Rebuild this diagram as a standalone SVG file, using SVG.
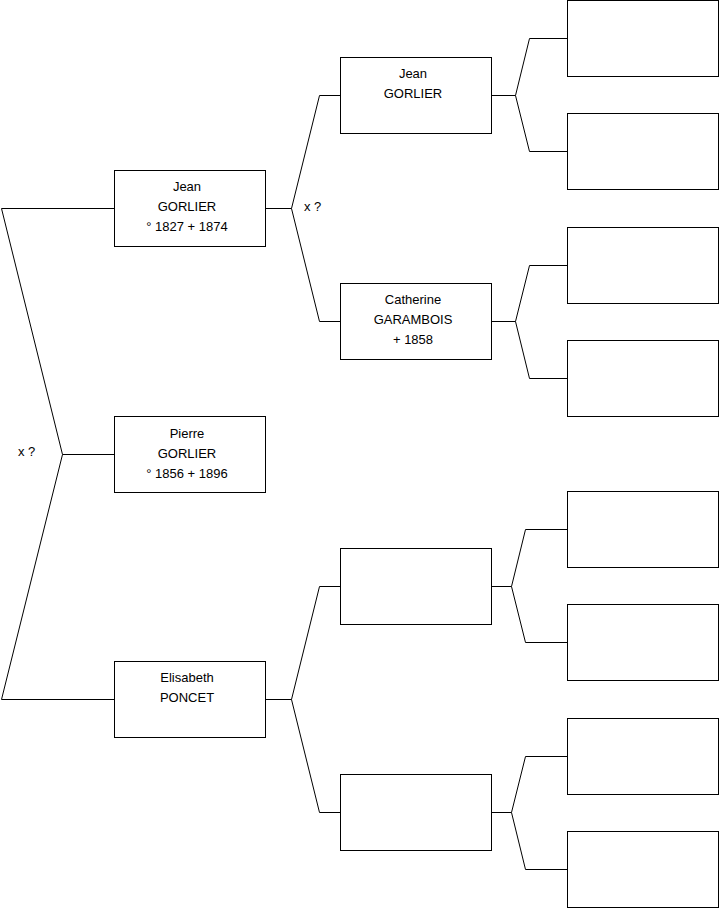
<svg xmlns="http://www.w3.org/2000/svg" width="719" height="908" viewBox="0 0 719 908">
<style>
.box{fill:#fff;stroke:#000;stroke-width:1}
.ln{fill:none;stroke:#000;stroke-width:1}
text{font-family:"Liberation Sans",Arial,sans-serif;font-size:13px;fill:#000;text-anchor:middle}
.lbl{text-anchor:start}
</style>
<rect width="719" height="908" fill="#fff"/>
<g id="connectors">
<path class="ln" d="M114,208.5 H1.5 L62.5,454.5 H114 M62.5,454.5 L1.5,699.5 H114"/>
<path class="ln" d="M265,208.5 H291.5 L319.5,95.5 H340 M291.5,208.5 L319.5,321.5 H340"/>
<path class="ln" d="M265,699.5 H291.5 L319.5,586.5 H340 M291.5,699.5 L319.5,812.5 H340"/>
<path class="ln" d="M491,95.5 H515.5 L529.5,38.5 H567 M515.5,95.5 L529.5,151.5 H567"/>
<path class="ln" d="M491,321.5 H515.5 L529.5,265.5 H567 M515.5,321.5 L529.5,378.5 H567"/>
<path class="ln" d="M491,586.5 H511.5 L525.5,529.5 H567 M511.5,586.5 L525.5,642.5 H567"/>
<path class="ln" d="M491,812.5 H511.5 L525.5,756.5 H567 M511.5,812.5 L525.5,869.5 H567"/>
<text class="lbl" x="18" y="456">x ?</text>
<text class="lbl" x="304" y="211">x ?</text>
</g>
<g id="n-jean-1827">
<rect class="box" x="114.5" y="170.5" width="151" height="76"/>
<text x="187" y="191">Jean</text>
<text x="187" y="211">GORLIER</text>
<text x="187" y="231">° 1827 + 1874</text>
</g>
<g id="n-pierre">
<rect class="box" x="114.5" y="416.5" width="151" height="76"/>
<text x="187" y="437.5">Pierre</text>
<text x="187" y="457.5">GORLIER</text>
<text x="187" y="477.5">° 1856 + 1896</text>
</g>
<g id="n-elisabeth">
<rect class="box" x="114.5" y="661.5" width="151" height="76"/>
<text x="187" y="682">Elisabeth</text>
<text x="187" y="702">PONCET</text>
</g>
<g id="n-jean-gp">
<rect class="box" x="340.5" y="57.5" width="151" height="76"/>
<text x="413" y="78">Jean</text>
<text x="413" y="98">GORLIER</text>
</g>
<g id="n-catherine">
<rect class="box" x="340.5" y="283.5" width="151" height="76"/>
<text x="413" y="304">Catherine</text>
<text x="413" y="324">GARAMBOIS</text>
<text x="413" y="344">+ 1858</text>
</g>
<g id="n-gp3"><rect class="box" x="340.5" y="548.5" width="151" height="76"/></g>
<g id="n-gp4"><rect class="box" x="340.5" y="774.5" width="151" height="76"/></g>
<g id="n-ggp1"><rect class="box" x="567.5" y="0.5" width="151" height="76"/></g>
<g id="n-ggp2"><rect class="box" x="567.5" y="113.5" width="151" height="76"/></g>
<g id="n-ggp3"><rect class="box" x="567.5" y="227.5" width="151" height="76"/></g>
<g id="n-ggp4"><rect class="box" x="567.5" y="340.5" width="151" height="76"/></g>
<g id="n-ggp5"><rect class="box" x="567.5" y="491.5" width="151" height="76"/></g>
<g id="n-ggp6"><rect class="box" x="567.5" y="604.5" width="151" height="76"/></g>
<g id="n-ggp7"><rect class="box" x="567.5" y="718.5" width="151" height="76"/></g>
<g id="n-ggp8"><rect class="box" x="567.5" y="831.5" width="151" height="76"/></g>
</svg>
